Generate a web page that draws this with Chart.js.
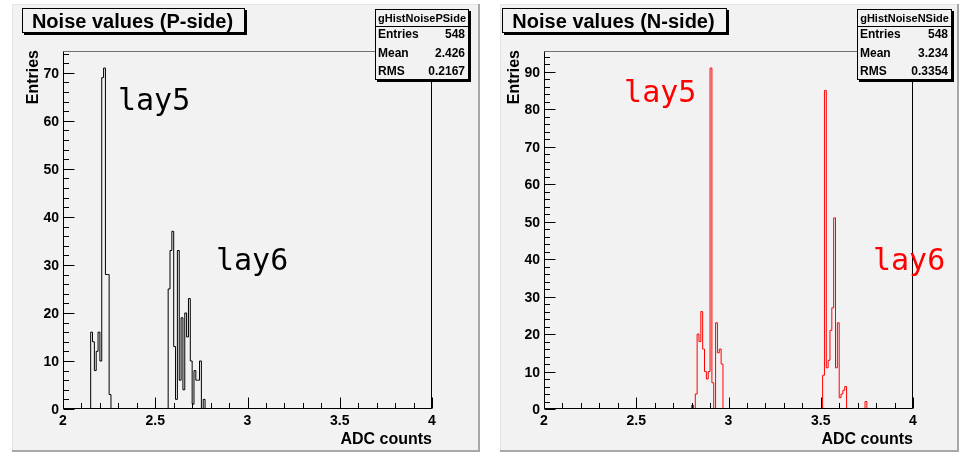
<!DOCTYPE html>
<html>
<head>
<meta charset="utf-8">
<script src="https://cdn.jsdelivr.net/npm/chart.js@4.4.1/dist/chart.umd.min.js"></script>
<style>
  html, body { margin: 0; padding: 0; background: #ffffff; }
  #wrap { position: relative; width: 968px; height: 455px; overflow: hidden; }
  canvas { position: absolute; top: 0; }
</style>
</head>
<body>
<div id="wrap">
  <canvas id="pside" width="484" height="455" style="left:0px"></canvas>
  <canvas id="nside" width="484" height="455" style="left:484px"></canvas>
</div>
<script>
// ---- histogram contents: bin low edges and entries per bin ----
const pLay5Edges  = [2.15, 2.16, 2.17, 2.18, 2.19, 2.20, 2.21, 2.22, 2.23, 2.24, 2.25, 2.26];
const pLay5Counts = [16, 14, 8, 12, 16, 10, 69, 71, 28, 28, 3, 0];
const pLay6Edges  = [2.57, 2.58, 2.59, 2.60, 2.61, 2.62, 2.63, 2.64, 2.65, 2.66, 2.67,
                     2.68, 2.69, 2.70, 2.71, 2.72, 2.73, 2.74, 2.75, 2.76, 2.77];
const pLay6Counts = [25, 33, 37, 13, 2, 33, 6, 19, 4, 20, 15, 23, 10, 1, 8, 6, 6, 10, 0, 2, 0];

const nLay5Edges  = [2.80, 2.81, 2.82, 2.83, 2.84, 2.85, 2.86, 2.87, 2.88, 2.89, 2.90,
                     2.91, 2.92, 2.93, 2.94, 2.95, 2.96, 2.97];
const nLay5Counts = [1, 0, 4, 20, 18, 26, 16, 10, 8, 10, 91, 7, 0, 23, 15, 16, 12, 0];
const nLay6Edges  = [3.51, 3.52, 3.53, 3.54, 3.55, 3.56, 3.57, 3.58, 3.59, 3.60, 3.61,
                     3.62, 3.63, 3.64, 3.74, 3.75];
const nLay6Counts = [9, 85, 11, 13, 21, 27, 51, 11, 23, 3, 4, 5, 6, 0, 2, 0];

// ---- axes ----
const xRange = [2, 4];
const xTickValues = [2, 2.5, 3, 3.5, 4];
const xTickLabels = ['2', '2.5', '3', '3.5', '4'];
const pYMax = 74.55;
const nYMax = 95.55;
const pYTickValues = [0, 10, 20, 30, 40, 50, 60, 70];
const nYTickValues = [0, 10, 20, 30, 40, 50, 60, 70, 80, 90];
const xAxisTitle = 'ADC counts';
const yAxisTitle = 'Entries';

// ---- titles, statistics and layer labels ----
const pTitle = 'Noise values (P-side)';
const nTitle = 'Noise values (N-side)';
const pStatsName = 'gHistNoisePSide';
const nStatsName = 'gHistNoiseNSide';
const statNames = ['Entries', 'Mean', 'RMS'];
const pStatValues = ['548', '2.426', '0.2167'];
const nStatValues = ['548', '3.234', '0.3354'];
const layerNames = ['lay5', 'lay6'];
const pLayerX = [2.298, 2.829];
const pLayerY = [62.3, 29.0];
const nLayerX = [2.434, 3.783];
const nLayerY = [82.0, 37.1];

// Build a stepped outline (ROOT style) from the bin clusters.
function histPoints(clusters) {
  const pts = [{ x: xRange[0], y: 0 }];
  clusters.forEach(([edges, counts]) => {
    edges.forEach((e, i) => pts.push({ x: e, y: counts[i] }));
  });
  pts.push({ x: xRange[1], y: 0 });
  return pts;
}

const PAD_BG = '#f2f2f2';
const HEL = '"Liberation Sans", Arial, Helvetica, sans-serif';

const rootPad = {
  id: 'rootPad',
  beforeDraw(chart, args, o) {
    const ctx = chart.ctx;
    ctx.save();
    ctx.fillStyle = '#ffffff';
    ctx.fillRect(0, 0, chart.width, chart.height);
    const p = o.pad;
    ctx.fillStyle = PAD_BG;
    ctx.fillRect(p.x, p.y, p.w, p.h);
    // bevelled pad edges
    ctx.fillStyle = '#e4e4e4';
    ctx.fillRect(p.x, p.y, p.w, 1);
    ctx.fillRect(p.x, p.y, 1, p.h);
    ctx.fillStyle = '#a8a8a8';
    ctx.fillRect(p.x, p.y + p.h - 2, p.w, 2);
    ctx.fillRect(p.x + p.w - 2, p.y, 2, p.h);
    ctx.restore();
  },
  afterDatasetsDraw(chart, args, o) {
    const ctx = chart.ctx;
    const a = chart.chartArea;
    const xs = chart.scales.x, ys = chart.scales.y;
    const L = Math.round(a.left) + 0.5, R = Math.round(a.right) - 0.5;
    const T = Math.round(a.top) + 0.5, B = Math.round(a.bottom) - 0.5;
    ctx.save();

    // frame
    ctx.lineWidth = 1;
    ctx.strokeStyle = '#707070';
    ctx.beginPath(); ctx.moveTo(L, T); ctx.lineTo(R, T); ctx.stroke();
    ctx.strokeStyle = '#000000';
    ctx.beginPath(); ctx.moveTo(R, T); ctx.lineTo(R, B); ctx.stroke();
    ctx.beginPath(); ctx.moveTo(L, T); ctx.lineTo(L, B); ctx.lineTo(R, B); ctx.stroke();

    // x ticks (inside the frame)
    ctx.beginPath();
    for (let i = 0; i <= 20; i++) {
      const v = xRange[0] + i * 0.1;
      const px = Math.round(xs.getPixelForValue(v)) + 0.5;
      const len = (i % 5 === 0) ? 11 : 5.5;
      ctx.moveTo(px, B); ctx.lineTo(px, B - len);
    }
    // y ticks
    for (let v = 0; v <= o.yMax; v += 2) {
      const py = Math.round(ys.getPixelForValue(v)) + 0.5;
      const len = (v % 10 === 0) ? 11 : 5.5;
      ctx.moveTo(L, py); ctx.lineTo(L + len, py);
    }
    ctx.stroke();

    // tick labels
    ctx.fillStyle = '#000000';
    ctx.font = 'bold 14px ' + HEL;
    ctx.textAlign = 'center';
    ctx.textBaseline = 'alphabetic';
    xTickValues.forEach((v, i) => {
      ctx.fillText(xTickLabels[i], xs.getPixelForValue(v), 425);
    });
    ctx.textAlign = 'right';
    o.yTicks.forEach(v => {
      ctx.fillText(String(v), a.left - 4, ys.getPixelForValue(v) + 5);
    });

    // axis titles
    ctx.font = 'bold 16px ' + HEL;
    ctx.textAlign = 'right';
    ctx.fillText(xAxisTitle, a.right, 444);
    ctx.save();
    ctx.translate(o.yTitleX, a.top - 1);
    ctx.rotate(-Math.PI / 2);
    ctx.textAlign = 'right';
    ctx.fillText(yAxisTitle, 0, 0);
    ctx.restore();

    // layer labels
    ctx.font = '30px "DejaVu Sans Mono", monospace';
    ctx.fillStyle = o.color;
    ctx.textAlign = 'left';
    layerNames.forEach((t, i) => {
      ctx.fillText(t, xs.getPixelForValue(o.layerX[i]), ys.getPixelForValue(o.layerY[i]));
    });

    // title box
    const tb = o.titleBox;
    ctx.fillStyle = '#000000';
    ctx.fillRect(tb.x + 2, tb.y + 2, tb.w, tb.h);
    ctx.fillStyle = PAD_BG;
    ctx.fillRect(tb.x, tb.y, tb.w, tb.h);
    ctx.strokeStyle = '#000000';
    ctx.strokeRect(tb.x + 0.5, tb.y + 0.5, tb.w - 1, tb.h - 1);
    ctx.fillStyle = '#000000';
    ctx.font = 'bold 20px ' + HEL;
    ctx.textAlign = 'center';
    ctx.fillText(o.title, tb.x + tb.w / 2 - 1, tb.y + 20);

    // statistics box
    const sb = o.statsBox;
    ctx.fillStyle = '#000000';
    ctx.fillRect(sb.x + 2, sb.y + 2, sb.w, sb.h);
    ctx.fillStyle = PAD_BG;
    ctx.fillRect(sb.x, sb.y, sb.w, sb.h);
    ctx.strokeRect(sb.x + 0.5, sb.y + 0.5, sb.w - 1, sb.h - 1);
    ctx.beginPath();
    ctx.moveTo(sb.x, sb.y + 17.5); ctx.lineTo(sb.x + sb.w, sb.y + 17.5);
    ctx.stroke();
    ctx.fillStyle = '#000000';
    ctx.font = 'bold 11px ' + HEL;
    ctx.textAlign = 'center';
    ctx.fillText(o.statsName, sb.x + sb.w / 2, sb.y + 13);
    ctx.font = 'bold 12px ' + HEL;
    statNames.forEach((n, i) => {
      const by = sb.y + 29 + i * 18.5;
      ctx.textAlign = 'left';
      ctx.fillText(n, sb.x + 3, by);
      ctx.textAlign = 'right';
      ctx.fillText(o.statValues[i], sb.x + sb.w - 4, by);
    });
    ctx.restore();
  }
};

function makeChart(id, cfg) {
  return new Chart(document.getElementById(id), {
    type: 'line',
    data: {
      datasets: [{
        data: histPoints(cfg.clusters),
        borderColor: cfg.color,
        borderWidth: 1,
        pointRadius: 0,
        fill: false,
        stepped: true,
        tension: 0
      }]
    },
    options: {
      responsive: false,
      animation: false,
      devicePixelRatio: 1,
      layout: { padding: cfg.padding },
      scales: {
        x: { type: 'linear', min: xRange[0], max: xRange[1], display: false },
        y: { type: 'linear', min: 0, max: cfg.yMax, display: false }
      },
      plugins: {
        legend: { display: false },
        tooltip: { enabled: false },
        rootPad: {
          pad: cfg.pad,
          yMax: cfg.yMax,
          yTicks: cfg.yTicks,
          yTitleX: cfg.yTitleX,
          color: cfg.color,
          layerX: cfg.layerX,
          layerY: cfg.layerY,
          title: cfg.title,
          titleBox: cfg.titleBox,
          statsBox: cfg.statsBox,
          statsName: cfg.statsName,
          statValues: cfg.statValues
        }
      }
    },
    plugins: [rootPad]
  });
}

makeChart('pside', {
  clusters: [[pLay5Edges, pLay5Counts], [pLay6Edges, pLay6Counts]],
  color: '#000000',
  yMax: pYMax,
  yTicks: pYTickValues,
  padding: { left: 63, top: 51, right: 52, bottom: 46 },
  pad: { x: 12, y: 4, w: 468, h: 448 },
  yTitleX: 38,
  layerX: pLayerX, layerY: pLayerY,
  title: pTitle,
  titleBox: { x: 22, y: 8, w: 223, h: 25 },
  statsBox: { x: 375, y: 9, w: 94, h: 71 },
  statsName: pStatsName,
  statValues: pStatValues
});

makeChart('nside', {
  clusters: [[nLay5Edges, nLay5Counts], [nLay6Edges, nLay6Counts]],
  color: '#ff0000',
  yMax: nYMax,
  yTicks: nYTickValues,
  padding: { left: 60, top: 51, right: 55, bottom: 46 },
  pad: { x: 16, y: 4, w: 459, h: 448 },
  yTitleX: 35,
  layerX: nLayerX, layerY: nLayerY,
  title: nTitle,
  titleBox: { x: 18, y: 8, w: 225, h: 25 },
  statsBox: { x: 373, y: 9, w: 95, h: 71 },
  statsName: nStatsName,
  statValues: nStatValues
});
</script>
</body>
</html>
